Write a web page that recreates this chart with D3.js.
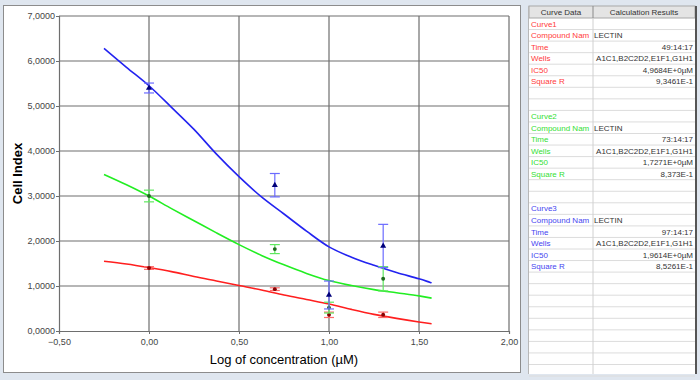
<!DOCTYPE html>
<html>
<head>
<meta charset="utf-8">
<script src="https://cdn.jsdelivr.net/npm/d3@7"></script>
<style>
  body { margin: 0; background: #dfe6ef; }
  svg { display: block; font-family: "Liberation Sans", Arial, sans-serif; }
</style>
</head>
<body>
<div id="chart"></div>
<script>
// axis ticks
var xTicks = [-0.5, 0, 0.5, 1.0, 1.5, 2.0];
var yTicks = [0, 1, 2, 3, 4, 5, 6, 7];

// measured points (log concentration)
var doseX = [0, 0.699, 1.0, 1.301];
var curve1Mean = [1.40, 0.93, 0.36, 0.36];
var curve1Err  = [0.03, 0.03, 0.06, 0.06];
var curve2Mean = [3.00, 1.82, 0.52, 1.16];
var curve2Err  = [0.13, 0.10, 0.12, 0.27];
var curve3Mean = [5.40, 3.24, 0.80, 1.89];
var curve3Err  = [0.11, 0.26, 0.31, 0.48];

// fitted curves
var fitX      = [-0.25, -0.125, 0, 0.125, 0.25, 0.375, 0.5, 0.625, 0.75, 0.875, 1.0, 1.125, 1.25, 1.375, 1.5, 1.57];
var curve1Fit = [1.55, 1.49, 1.41, 1.32, 1.21, 1.11, 1.01, 0.91, 0.80, 0.70, 0.60, 0.48, 0.37, 0.28, 0.20, 0.16];
var curve2Fit = [3.48, 3.25, 3.00, 2.72, 2.45, 2.18, 1.92, 1.68, 1.47, 1.28, 1.12, 1.01, 0.92, 0.85, 0.78, 0.73];
var curve3Fit = [6.28, 5.86, 5.45, 4.97, 4.48, 3.93, 3.43, 2.98, 2.60, 2.22, 1.87, 1.64, 1.46, 1.30, 1.16, 1.07];

// results table
var tableHeader = ["Curve Data", "Calculation Results"];
var rowLabels = ["Compound Nam", "Time", "Wells", "IC50", "Square R"];
var curveNames = ["Curve1", "Curve2", "Curve3"];
var compounds = ["LECTIN", "LECTIN", "LECTIN"];
var times = ["49:14:17", "73:14:17", "97:14:17"];
var wells = ["A1C1,B2C2D2,E1F1,G1H1", "A1C1,B2C2D2,E1F1,G1H1", "A1C1,B2C2D2,E1F1,G1H1"];
var ic50s = ["4,9684E+0µM", "1,7271E+0µM", "1,9614E+0µM"];
var squareR = ["9,3461E-1", "8,373E-1", "8,5261E-1"];

var curveColors = ["#ff1f1f", "#22ee22", "#2323f0"];
var errColors = ["#ff6b6b", "#5ee85e", "#6b6bff"];
var markColors = ["#8a0000", "#1e6b1e", "#00007a"];
var textColors = ["#ff3b3b", "#33e033", "#4646f0"];

var svg = d3.select("#chart").append("svg")
  .attr("width", 700)
  .attr("height", 380);

// chart panel
svg.append("rect")
  .attr("x", 3.5).attr("y", 5.5)
  .attr("width", 517).attr("height", 367)
  .attr("fill", "#fff")
  .attr("stroke", "#8c8c8c");

var x = d3.scaleLinear().domain([-0.5, 2.0]).range([59, 509]);
var y = d3.scaleLinear().domain([0, 7]).range([331, 16]);

var g = svg.append("g");

// grid
g.selectAll(".vgrid")
  .data(xTicks.slice(1))
  .enter().append("line")
  .attr("x1", function(d) { return x(d); })
  .attr("x2", function(d) { return x(d); })
  .attr("y1", y(0)).attr("y2", y(7))
  .attr("stroke", "#6e6e6e").attr("stroke-width", 1.2);

g.selectAll(".hgrid")
  .data(yTicks.slice(1))
  .enter().append("line")
  .attr("x1", x(-0.5)).attr("x2", x(2.0))
  .attr("y1", function(d) { return y(d); })
  .attr("y2", function(d) { return y(d); })
  .attr("stroke", "#6e6e6e").attr("stroke-width", 1.2);

// axes
var xAxis = g.append("g")
  .attr("transform", "translate(0," + y(0) + ")")
  .call(d3.axisBottom(x).tickValues(xTicks).tickSize(3)
    .tickFormat(function(d) { return d3.format(".2f")(d).replace(".", ","); }));
var yAxis = g.append("g")
  .attr("transform", "translate(" + x(-0.5) + ",0)")
  .call(d3.axisLeft(y).tickValues(yTicks).tickSize(3)
    .tickFormat(function(d) { return d3.format(".4f")(d).replace(".", ","); }));

[xAxis, yAxis].forEach(function(a) {
  a.select(".domain").attr("stroke", "#6e6e6e").attr("stroke-width", 1.2);
  a.selectAll(".tick line").attr("stroke", "#6e6e6e");
  a.selectAll("text")
    .attr("fill", "#444")
    .style("font-size", "9px")
    .style("font-family", "'Liberation Sans', Arial, sans-serif");
});
xAxis.selectAll("text").attr("dy", "0.9em");
yAxis.selectAll("text").attr("x", -4);

// axis titles
svg.append("text")
  .attr("x", 284).attr("y", 364)
  .attr("text-anchor", "middle")
  .style("font-size", "13px")
  .text("Log of concentration (µM)");

svg.append("text")
  .attr("transform", "translate(22," + y(3.5) + ") rotate(-90)")
  .attr("text-anchor", "middle")
  .style("font-size", "13px")
  .style("font-weight", "bold")
  .text("Cell Index");

// curves
var line = d3.line()
  .x(function(d) { return x(d[0]); })
  .y(function(d) { return y(d[1]); })
  .curve(d3.curveCatmullRom);

var fits = [curve1Fit, curve2Fit, curve3Fit];
var means = [curve1Mean, curve2Mean, curve3Mean];
var errs = [curve1Err, curve2Err, curve3Err];

fits.forEach(function(f, i) {
  g.append("path")
    .datum(fitX.map(function(v, k) { return [v, f[k]]; }))
    .attr("fill", "none")
    .attr("stroke", curveColors[i])
    .attr("stroke-width", 1.6)
    .attr("d", line);
});

// error bars and markers
means.forEach(function(m, i) {
  var pts = doseX.map(function(v, k) { return {x: v, y: m[k], e: errs[i][k]}; });
  var eb = g.append("g");
  eb.selectAll(".ev").data(pts).enter().append("line")
    .attr("x1", function(d) { return x(d.x); })
    .attr("x2", function(d) { return x(d.x); })
    .attr("y1", function(d) { return y(d.y - d.e); })
    .attr("y2", function(d) { return y(d.y + d.e); })
    .attr("stroke", errColors[i]).attr("stroke-width", 1.2);
  [-1, 1].forEach(function(s) {
    eb.selectAll(".cap" + s).data(pts).enter().append("line")
      .attr("x1", function(d) { return x(d.x) - 5; })
      .attr("x2", function(d) { return x(d.x) + 5; })
      .attr("y1", function(d) { return y(d.y + s * d.e); })
      .attr("y2", function(d) { return y(d.y + s * d.e); })
      .attr("stroke", errColors[i]).attr("stroke-width", 1.2);
  });
  var sym = i === 2 ? d3.symbolTriangle : d3.symbolCircle;
  eb.selectAll(".mk").data(pts).enter().append("path")
    .attr("transform", function(d) { return "translate(" + x(d.x) + "," + y(d.y) + ")"; })
    .attr("d", d3.symbol().type(sym).size(i === 2 ? 16 : 12))
    .attr("fill", markColors[i]);
});

// table
var tX = 529, tW = 166, col2 = 593, tTop = 6, headH = 12, rowH = 11.55;
var nRows = 31;
svg.append("rect")
  .attr("x", tX).attr("y", tTop)
  .attr("width", tW).attr("height", 374 - tTop)
  .attr("fill", "#fff");
svg.append("rect")
  .attr("x", tX).attr("y", tTop)
  .attr("width", tW).attr("height", headH)
  .attr("fill", "#e4e4e4").attr("stroke", "#a8a8a8");
svg.append("line")
  .attr("x1", col2).attr("x2", col2).attr("y1", tTop).attr("y2", tTop + headH)
  .attr("stroke", "#8a8a8a");
svg.append("text").attr("x", (tX + col2) / 2).attr("y", tTop + 9)
  .attr("text-anchor", "middle").style("font-size", "8px").attr("fill", "#333")
  .text(tableHeader[0]);
svg.append("text").attr("x", (col2 + tX + tW) / 2).attr("y", tTop + 9)
  .attr("text-anchor", "middle").style("font-size", "8px").attr("fill", "#333")
  .text(tableHeader[1]);

var rows = d3.range(nRows).map(function(r) { return tTop + headH + r * rowH; });
svg.selectAll(".rowline").data(rows).enter().append("line")
  .attr("x1", tX).attr("x2", tX + tW)
  .attr("y1", function(d) { return d + rowH; })
  .attr("y2", function(d) { return d + rowH; })
  .attr("stroke", "#dcdcdc");
svg.append("line")
  .attr("x1", col2).attr("x2", col2).attr("y1", tTop + headH).attr("y2", 374)
  .attr("stroke", "#d0d0d0");

var cells = [];
curveNames.forEach(function(name, i) {
  var r0 = i * 8;
  var vals = [[name, ""], [rowLabels[0], compounds[i]], [rowLabels[1], times[i]],
    [rowLabels[2], wells[i]], [rowLabels[3], ic50s[i]], [rowLabels[4], squareR[i]]];
  vals.forEach(function(v, k) {
    cells.push({row: r0 + k, label: v[0], value: v[1], c: i, left: k === 1});
  });
});

var ct = svg.selectAll(".cell").data(cells).enter().append("g")
  .attr("transform", function(d) { return "translate(0," + (tTop + headH + d.row * rowH + 8.6) + ")"; });
ct.append("text")
  .attr("x", tX + 2)
  .style("font-size", "8px")
  .attr("fill", function(d) { return textColors[d.c]; })
  .text(function(d) { return d.label; });
ct.append("text")
  .attr("x", function(d) { return d.left ? col2 + 1 : tX + tW - 2; })
  .attr("text-anchor", function(d) { return d.left ? "start" : "end"; })
  .style("font-size", "8px")
  .attr("fill", "#333")
  .text(function(d) { return d.value; });

// table right border
svg.append("line")
  .attr("x1", 696).attr("x2", 696).attr("y1", tTop).attr("y2", 374)
  .attr("stroke", "#555").attr("stroke-width", 2);
svg.append("line")
  .attr("x1", tX - 0.5).attr("x2", tX - 0.5).attr("y1", tTop).attr("y2", 374)
  .attr("stroke", "#b8b8b8");
</script>
</body>
</html>
